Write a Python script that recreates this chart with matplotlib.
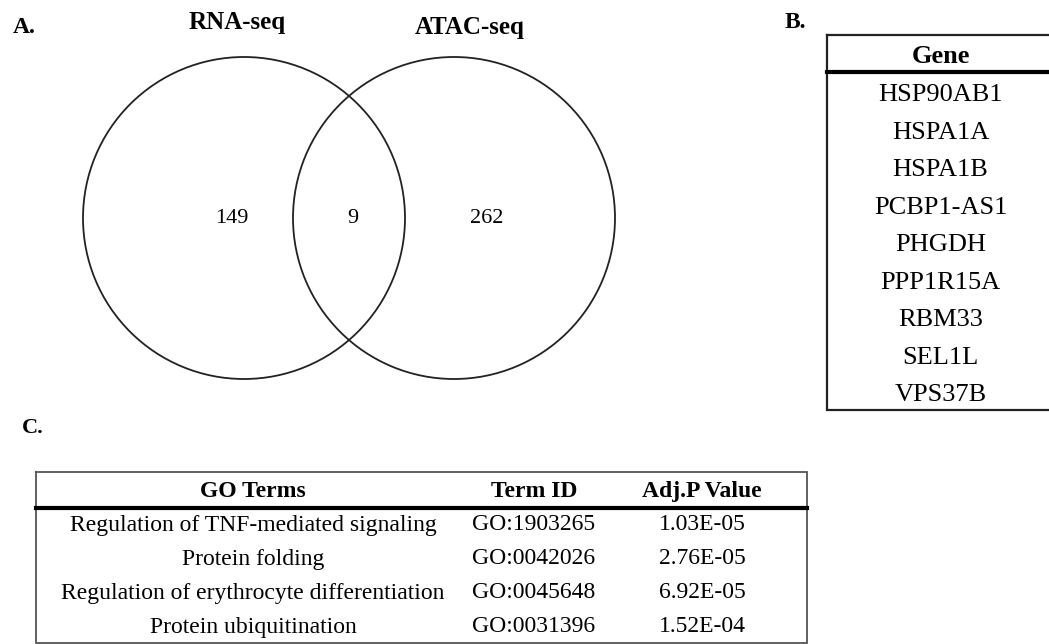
import matplotlib
matplotlib.use('Agg')
import matplotlib.pyplot as plt
from matplotlib.patches import Circle

plt.rcParams['font.family'] = 'Liberation Serif'

# Venn data
set_names = ['RNA-seq', 'ATAC-seq']
only_rna = 149
shared = 9
only_atac = 262

# table B
gene_header = 'Gene'
genes = ['HSP90AB1', 'HSPA1A', 'HSPA1B', 'PCBP1-AS1', 'PHGDH',
         'PPP1R15A', 'RBM33', 'SEL1L', 'VPS37B']

# table C
go_header = ['GO Terms', 'Term ID', 'Adj.P Value']
go_terms = ['Regulation of TNF-mediated signaling', 'Protein folding',
            'Regulation of erythrocyte differentiation', 'Protein ubiquitination']
go_ids = ['GO:1903265', 'GO:0042026', 'GO:0045648', 'GO:0031396']
go_pvals = ['1.03E-05', '2.76E-05', '6.92E-05', '1.52E-04']

W, H = 1049, 644
fig = plt.figure(figsize=(W / 100, H / 100), dpi=100)
ax = fig.add_axes([0, 0, 1, 1])
ax.set_xlim(0, W)
ax.set_ylim(H, 0)
ax.axis('off')

edge = '#222222'

# --- A. venn ---
ax.text(13, 27, 'A.', fontsize=17, fontweight='bold', va='center', ha='left')
r = 161
cx = [244, 454]
cy = 218
for x in cx:
    ax.add_patch(Circle((x, cy), r, fill=False, ec=edge, lw=1.3))
ax.text(237, 22, set_names[0], fontsize=18, fontweight='bold', ha='center', va='center')
ax.text(470, 27, set_names[1], fontsize=18, fontweight='bold', ha='center', va='center')
ax.text(232, cy, str(only_rna), fontsize=16, ha='center', va='center')
ax.text(353, cy, str(shared), fontsize=16, ha='center', va='center')
ax.text(487, cy, str(only_atac), fontsize=16, ha='center', va='center')

# --- B. gene table ---
ax.text(785, 22, 'B.', fontsize=17, fontweight='bold', va='center', ha='left')
bx0, bx1, by0, by1 = 827, 1056, 35, 410
ax.plot([bx0, bx1, bx1, bx0, bx0], [by0, by0, by1, by1, by0], color=edge, lw=1.6,
        solid_joinstyle='miter', clip_on=False)
ax.plot([bx0, bx1], [72, 72], color='black', lw=3)
bxc = (bx0 + bx1) / 2 - 1
ax.text(bxc, 56, gene_header, fontsize=19, fontweight='bold', ha='center', va='center')
for i, g in enumerate(genes):
    ax.text(bxc, 95 + 37.5 * i, g, fontsize=19, ha='center', va='center')

# --- C. GO table ---
ax.text(22, 428, 'C.', fontsize=16, fontweight='bold', va='center', ha='left')
cx0, cx1, cy0, cy1 = 36, 807, 472, 643
ax.plot([cx0, cx1, cx1, cx0, cx0], [cy0, cy0, cy1, cy1, cy0], color='#555555', lw=1.3,
        solid_joinstyle='miter')
ax.plot([cx0, cx1], [508, 508], color='black', lw=3)
col_x = [253, 534, 702]
for x, t in zip(col_x, go_header):
    ax.text(x, 491, t, fontsize=17, fontweight='bold', ha='center', va='center')
row_y = [525, 559, 593, 627]
for y, term, gid, p in zip(row_y, go_terms, go_ids, go_pvals):
    ax.text(col_x[0], y, term, fontsize=17, ha='center', va='center')
    ax.text(col_x[1], y, gid, fontsize=17, ha='center', va='center')
    ax.text(col_x[2], y, p, fontsize=17, ha='center', va='center')

fig.savefig('out.png', dpi=100)
